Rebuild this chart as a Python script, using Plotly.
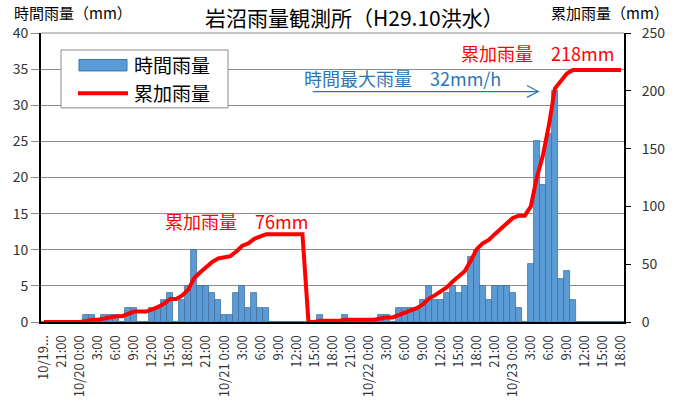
import plotly.graph_objects as go

# hourly slots from 10/19 18:00 (index 0) to 10/23 18:00 (index 96)
slots = list(range(97))

hourly_rain = [
    0, 0, 0, 0, 0, 0, 0, 1, 1, 0,
    1, 1, 1, 0, 2, 2, 0, 0, 2, 2,
    3, 4, 0, 3, 5, 10, 5, 5, 4, 3,
    1, 1, 4, 5, 2, 4, 2, 2, 0, 0,
    0, 0, 0, 0, 0, 0, 1, 0, 0, 0,
    1, 0, 0, 0, 0, 0, 1, 1, 0, 2,
    2, 2, 2, 3, 5, 3, 3, 4, 5, 4,
    5, 9, 10, 5, 3, 5, 5, 5, 4, 2,
    0, 8, 25, 19, 26, 32, 6, 7, 3, 0,
    0, 0, 0, 0, 0, 0, 0,
]

cumulative_rain = [
    0, 0, 0, 0, 0, 0, 0, 1, 2, 2,
    3, 4, 5, 5, 7, 9, 9, 9, 11, 13,
    16, 20, 20, 23, 28, 38, 43, 48, 52, 55,
    56, 57, 61, 66, 68, 72, 74, 76, 76, 76,
    76, 76, 76, 76, 0, 0, 1, 1, 1, 1,
    2, 2, 2, 2, 2, 2, 3, 4, 4, 6,
    8, 10, 12, 15, 20, 23, 26, 30, 35, 39,
    44, 53, 63, 68, 71, 76, 81, 86, 90, 92,
    92, 100, 125, 144, 170, 202, 208, 215, 218, 218,
    218, 218, 218, 218, 218, 218, 218,
]

tick_positions = list(range(0, 97, 3))
tick_labels = [
    "10/19...", "21:00",
    "10/20 0:00", "3:00", "6:00", "9:00", "12:00", "15:00", "18:00", "21:00",
    "10/21 0:00", "3:00", "6:00", "9:00", "12:00", "15:00", "18:00", "21:00",
    "10/22 0:00", "3:00", "6:00", "9:00", "12:00", "15:00", "18:00", "21:00",
    "10/23 0:00", "3:00", "6:00", "9:00", "12:00", "15:00", "18:00",
]

left_ticks = [0, 5, 10, 15, 20, 25, 30, 35, 40]
right_ticks = [0, 50, 100, 150, 200, 250]

FONT = "Noto Sans CJK JP"
BAR_FILL = "#5b9bd5"
BAR_EDGE = "#41719c"
RED = "#ff0000"
BLUE_TXT = "#2e75b6"

fig = go.Figure()
fig.add_trace(go.Bar(
    x=slots, y=hourly_rain, name="時間雨量",
    marker=dict(color=BAR_FILL, line=dict(color=BAR_EDGE, width=0.8)),
    yaxis="y", showlegend=False,
))
fig.add_trace(go.Scatter(
    x=slots, y=cumulative_rain, name="累加雨量", mode="lines",
    line=dict(color=RED, width=4), yaxis="y2", showlegend=False,
))

L, R, T, B = 41, 53, 33, 82.5
W, H = 677, 405
pw, ph = W - L - R, H - T - B


def px(x):
    return (x - L) / pw


def py(y):
    return (H - B - y) / ph


fig.update_layout(
    template="none",
    width=W, height=H,
    margin=dict(l=L, r=R, t=T, b=B, pad=0, autoexpand=False),
    paper_bgcolor="white", plot_bgcolor="white",
    bargap=0,
    showlegend=False,
    font=dict(family=FONT, color="#333333"),
    xaxis=dict(
        automargin=False,
        range=[-0.5, 96.5], tickmode="array",
        tickvals=tick_positions, ticktext=tick_labels,
        tickangle=-90, tickfont=dict(size=13, color="#333333"),
        ticks="outside", ticklen=6, tickcolor="rgba(0,0,0,0)",
        showgrid=False, zeroline=False,
        showline=True, linecolor="black", linewidth=2,
    ),
    yaxis=dict(
        automargin=False,
        range=[0, 40], tickmode="array", tickvals=left_ticks,
        tickfont=dict(size=14, color="#333333"),
        ticks="outside", ticklen=8, tickcolor="#8c8c8c",
        showgrid=True, gridcolor="#8c8c8c", gridwidth=1,
        zeroline=False, showline=True, linecolor="black", linewidth=2,
    ),
    yaxis2=dict(
        automargin=False,
        range=[0, 250], tickmode="array", tickvals=right_ticks,
        overlaying="y", side="right",
        tickfont=dict(size=14, color="#333333"),
        ticks="outside", ticklen=5, tickcolor="black",
        ticklabelstandoff=8,
        showgrid=False, zeroline=False,
        showline=True, linecolor="black", linewidth=2,
    ),
)

shapes = []
# top border of plot area
shapes.append(dict(type="line", xref="paper", yref="paper", x0=0, x1=1, y0=1, y1=1,
                   line=dict(color="#8c8c8c", width=1)))
# custom legend box
shapes.append(dict(type="rect", xref="paper", yref="paper",
                   x0=px(61), x1=px(228), y0=py(108), y1=py(50),
                   fillcolor="white", line=dict(color="#8c8c8c", width=1)))
shapes.append(dict(type="rect", xref="paper", yref="paper",
                   x0=px(79), x1=px(127), y0=py(71), y1=py(59.5),
                   fillcolor=BAR_FILL, line=dict(color=BAR_EDGE, width=1)))
shapes.append(dict(type="line", xref="paper", yref="paper",
                   x0=px(78), x1=px(128), y0=py(93.3), y1=py(93.3),
                   line=dict(color=RED, width=4)))
# arrow for max hourly rain
shapes.append(dict(type="line", xref="paper", yref="paper",
                   x0=px(312.7), x1=px(538), y0=py(91.7), y1=py(91.7),
                   line=dict(color=BLUE_TXT, width=1.2)))
shapes.append(dict(type="path", xref="paper", yref="paper",
                   path=f"M {px(527)} {py(85.5)} L {px(538.3)} {py(91.7)} L {px(527)} {py(97.5)}",
                   line=dict(color=BLUE_TXT, width=1.2)))
fig.update_layout(shapes=shapes)


def note(text, x, y, size, color, xanchor="center"):
    return dict(text=text, x=px(x), y=py(y), xref="paper", yref="paper",
                xanchor=xanchor, yanchor="middle", showarrow=False,
                font=dict(size=size, color=color, family=FONT))


ann = [
    note("岩沼雨量観測所（H29.10洪水）", 355, 17, 21, "black"),
    note("時間雨量（mm）", 12, 12, 15, "black", "left"),
    note("累加雨量（mm）", 671, 12, 15, "black", "right"),
    note("時間雨量", 132, 65, 19, "black", "left"),
    note("累加雨量", 132, 92.7, 19, "black", "left"),
    note("累加雨量　76mm", 236.7, 221, 18, RED),
    note("累加雨量　218mm", 537, 53, 18, RED),
    note("時間最大雨量　32mm/h", 402.3, 78, 18, BLUE_TXT),
]
fig.update_layout(annotations=ann)

fig.write_html("out.html", config={"displayModeBar": False},
               post_script="document.body.style.margin='0px';")
